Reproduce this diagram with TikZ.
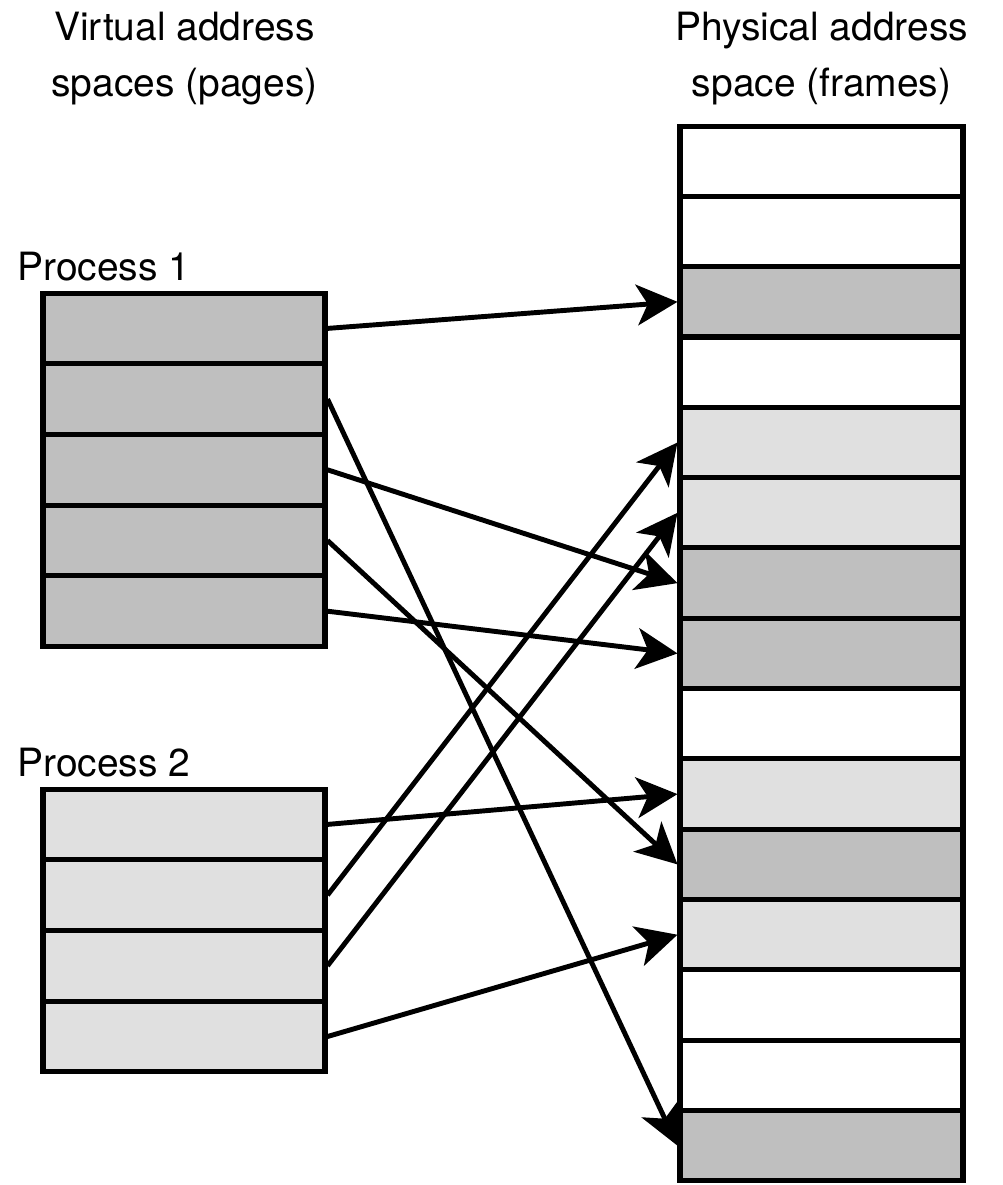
\documentclass[tikz,border=0pt]{standalone}
\usepackage{fontspec}
\setmainfont{TeX Gyre Heros}
\usetikzlibrary{arrows.meta}
\usetikzlibrary{positioning}
\definecolor{darkpage}{gray}{0.75}
\definecolor{lightpage}{gray}{0.88}
\tikzstyle{page} = [rectangle, draw=black, line width=3.6pt, inner sep=0pt, minimum
width=7.05cm, minimum height=1.7675cm]
\tikzstyle{frame} = [rectangle, draw=black, line width=3.6pt, inner sep=0pt, minimum
width=7.075cm, minimum height=1.758cm]
\tikzstyle{arrow} = [line width=3.5pt, -{Stealth[inset=7.8pt, length=29pt, width=29pt]}]

\begin{document}
\begin{tikzpicture}[node distance=-3.6pt, font=\fontsize{27.7}{40.5}\selectfont]
  \useasboundingbox (0,0) rectangle (25.05,-29.625);

  % titles
  \node (virt) [anchor=base, align=center, inner sep=0pt] at (4.6125,-2.425)
  {Virtual address\\spaces (pages)};
  \node (phys) [anchor=base, align=center, inner sep=0pt] at (20.54,-2.425)
  {Physical address\\space (frames)};
  \node (proc1) [anchor=base west, inner sep=0pt] at (0.425,-7.0) {Process 1};
  \node (proc2) [anchor=base west, inner sep=0pt] at (0.425,-19.4) {Process 2};

  % process 1 pages
  \node (p1-1) [page, fill=darkpage] at (4.6,-8.21) {};
  \foreach \i [count=\j from 2] in {1,...,4}
    \node (p1-\j) [page, fill=darkpage, below=of p1-\i] {};

  % process 2 pages
  \node (p2-1) [page, fill=lightpage] at (4.6,-20.61) {};
  \foreach \i [count=\j from 2] in {1,...,3}
    \node (p2-\j) [page, fill=lightpage, below=of p2-\i] {};

  % physical frames
  \node (f1) [frame, fill=white] at (20.5375,-4.03) {};
  \foreach \c [count=\j from 2] in {white,darkpage,white,lightpage,lightpage,darkpage,
    darkpage,white,lightpage,darkpage,lightpage,white,white,darkpage}{
    \pgfmathtruncatemacro{\i}{\j-1}
    \node (f\j) [frame, fill=\c, below=of f\i] {};
  }

  % page -> frame mappings
  \draw[arrow] (p1-1.east) -- (f3.west);
  \draw[arrow] (p1-2.east) -- (f15.west);
  \draw[arrow] (p1-3.east) -- (f7.west);
  \draw[arrow] (p1-4.east) -- (f11.west);
  \draw[arrow] (p1-5.east) -- (f8.west);

  \draw[arrow] (p2-1.east) -- (f10.west);
  \draw[arrow] (p2-2.east) -- (f5.west);
  \draw[arrow] (p2-3.east) -- (f6.west);
  \draw[arrow] (p2-4.east) -- (f12.west);
\end{tikzpicture}
\end{document}
